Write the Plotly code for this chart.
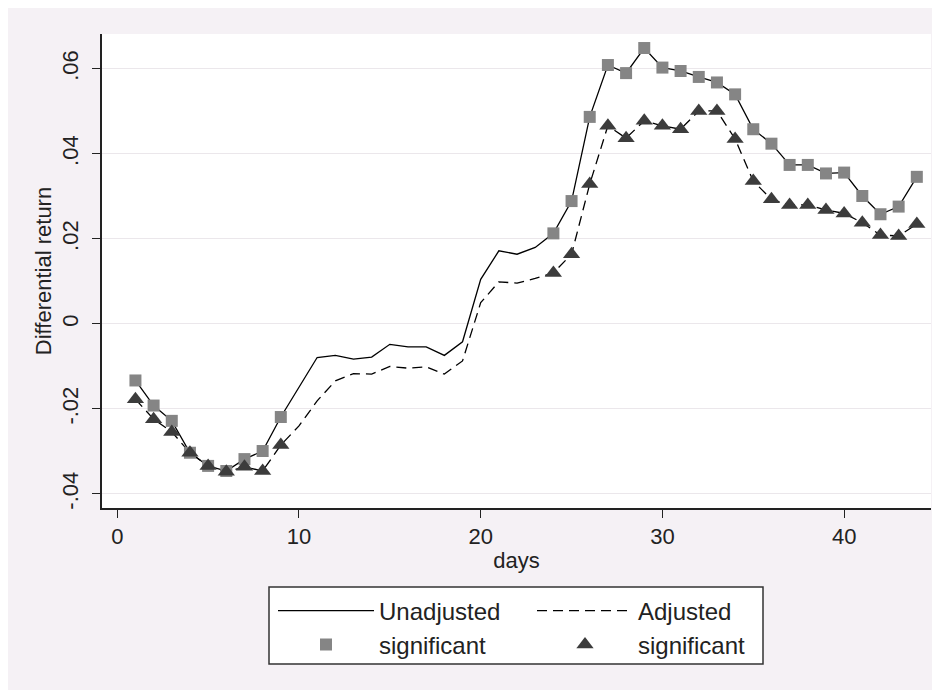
import plotly.graph_objects as go

days = list(range(1, 45))
unadjusted = [-0.0133, -0.0192, -0.0228, -0.0303, -0.0334, -0.0346, -0.0318, -0.0299, -0.0219,
              -0.0148, -0.0079, -0.0074, -0.0083, -0.0078, -0.0048, -0.0054, -0.0054, -0.0074, -0.0042,
              0.0105, 0.0172, 0.0164, 0.0180,
              0.0213, 0.0289, 0.0487, 0.0609, 0.0590, 0.0649, 0.0603, 0.0595, 0.0581, 0.0568, 0.0540,
              0.0458, 0.0424, 0.0374, 0.0374, 0.0354, 0.0356, 0.0301, 0.0258, 0.0276, 0.0346]
adjusted = [-0.0177, -0.0224, -0.0254, -0.0303, -0.0334, -0.0348, -0.0336, -0.0346, -0.0285,
            -0.0240, -0.0181, -0.0134, -0.0117, -0.0118, -0.0100, -0.0104, -0.0101, -0.0118, -0.0087,
            0.0050, 0.0099, 0.0096, 0.0107,
            0.0120, 0.0164, 0.0329, 0.0466, 0.0437, 0.0478, 0.0466, 0.0458, 0.0501, 0.0501, 0.0435,
            0.0336, 0.0293, 0.0280, 0.0280, 0.0268, 0.0260, 0.0238, 0.0209, 0.0207, 0.0235]
significant_days = [1, 2, 3, 4, 5, 6, 7, 8, 9,
                    24, 25, 26, 27, 28, 29, 30, 31, 32, 33, 34,
                    35, 36, 37, 38, 39, 40, 41, 42, 43, 44]
y_tickvals = [-0.04, -0.02, 0, 0.02, 0.04, 0.06]
y_ticktext = ["-.04", "-.02", "0", ".02", ".04", ".06"]
x_tickvals = [0, 10, 20, 30, 40]

sig_unadj = [unadjusted[days.index(d)] for d in significant_days]
sig_adj = [adjusted[days.index(d)] for d in significant_days]

FONT = "Liberation Sans"
fig = go.Figure()

fig.add_trace(go.Scatter(x=days, y=unadjusted, mode="lines", name="Unadjusted",
                         line=dict(color="black", width=1.3), legend="legend"))
fig.add_trace(go.Scatter(x=days, y=adjusted, mode="lines", name="Adjusted",
                         line=dict(color="black", width=1.3, dash="10px,6px"), legend="legend"))
fig.add_trace(go.Scatter(x=significant_days, y=sig_unadj, mode="markers", name="significant",
                         marker=dict(symbol="square", size=12, color="#858585"), legend="legend2"))
fig.add_trace(go.Scatter(x=significant_days, y=sig_adj, mode="markers", name="significant",
                         marker=dict(symbol="triangle-up", size=15, color="#3c3c3c"), legend="legend2"))

# page offset (browser body margin)
OX, OY = 8, 7
W, H = 940, 690
L, R, T, B = 102 - OX, 931 - OX, 33 - OY, 507 - OY
pw, ph = R - L, B - T
def px(x): return (x - OX - L) / pw
def py(y): return (B - (y - OY)) / ph

shapes = [
    dict(type="rect", xref="paper", yref="paper", x0=px(269), x1=px(763), y0=py(663), y1=py(586),
         fillcolor="white", line=dict(color="#333333", width=1.5), layer="below"),
]

legend_common = dict(orientation="h", xanchor="left", yanchor="middle",
                     bgcolor="rgba(0,0,0,0)", font=dict(family=FONT, size=24, color="#222222"),
                     itemwidth=96, entrywidth=148, traceorder="normal", tracegroupgap=0)

fig.update_layout(
    width=W, height=H,
    margin=dict(l=L, r=W - R, t=T, b=H - B, pad=0),
    paper_bgcolor="#f5f1f5", plot_bgcolor="white",
    font=dict(family=FONT, size=22, color="#222222"),
    showlegend=True,
    legend=dict(x=px(273), y=py(610), **legend_common),
    legend2=dict(x=px(273), y=py(644), **legend_common),
    shapes=shapes,
    xaxis=dict(range=[-0.84, 44.78], tickvals=x_tickvals, ticks="outside", ticklen=8,
               tickcolor="#222222", showline=True, linecolor="#222222", linewidth=1.5,
               showgrid=False, zeroline=False, tickfont=dict(size=22),
               title=dict(text="days", font=dict(size=22), standoff=4)),
    yaxis=dict(range=[-0.0433, 0.0682], tickvals=y_tickvals, ticktext=y_ticktext,
               tickangle=-90, ticks="outside", ticklen=8, tickcolor="#222222",
               showline=True, linecolor="#222222", linewidth=1.5,
               showgrid=True, gridcolor="#ebe7eb", gridwidth=1, zeroline=False,
               tickfont=dict(size=22), ticklabelstandoff=5,
               title=dict(text="Differential return", font=dict(size=22), standoff=1)),
)

fig.write_html("out.html")
